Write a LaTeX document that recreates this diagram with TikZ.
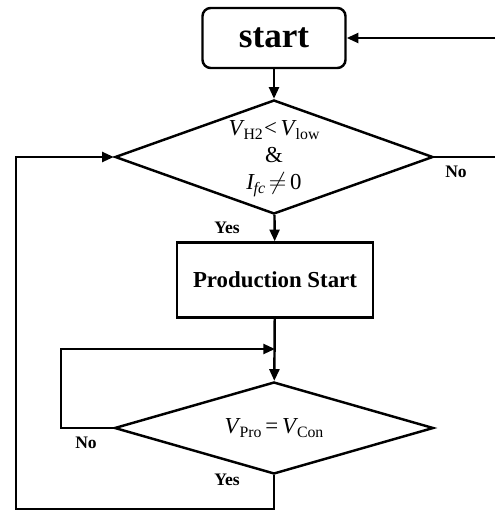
\documentclass[tikz,border=0pt]{standalone}
\usepackage{fontspec}
\setmainfont{Liberation Serif}
\usetikzlibrary{shapes,shapes.geometric,arrows.meta,calc}

% italic variable with upright subscript
\newcommand{\varsub}[2]{\textit{#1}\kern-1pt\raisebox{-0.4ex}{\fontsize{13.5}{13.5}\selectfont #2}}

\begin{document}
\begin{tikzpicture}
        [x=0.03cm,y=-0.03cm,line width=2.1pt,
        >={Triangle[length=10pt,width=8.5pt]},
        every node/.style={draw,line width=2.1pt,inner sep=0pt},
        startbox/.style={rectangle,rounded corners=7pt,minimum width=4.29cm,
          minimum height=1.8cm,font=\fontsize{30}{30}\selectfont\bfseries},
        procbox/.style={rectangle,minimum width=5.88cm,minimum height=2.25cm,
          font=\fontsize{19.5}{19.5}\selectfont\bfseries},
        decision/.style={diamond,aspect=2.8,minimum width=9.54cm,minimum height=3.42cm,
          font=\fontsize{19.5}{23}\selectfont,align=center},
        answer/.style={draw=none,font=\fontsize{15}{15}\selectfont\bfseries}]
        \useasboundingbox (0,0) rectangle (495,511);
        \node[startbox] (start) at (274,38) {start};
        %%
        \node[decision] (vcheck) at (274,157)
          {\raisebox{-5pt}{\begin{tabular}{@{}c@{}}
           \varsub{V}{H2}\kern1pt<\,\varsub{V}{low}\\ \&\\
           \textit{I}\kern-1pt\raisebox{-0.4ex}{\fontsize{13.5}{13.5}\selectfont\textit{fc}}\,\(\neq\)\,0
           \end{tabular}}};
        %%
        \node[procbox] (prod) at (275,280) {Production Start};
        %%
        \node[decision,minimum width=9.57cm,minimum height=2.76cm,aspect=3.47] (pcheck) at (274,428)
          {\varsub{V}{Pro}\,=\,\varsub{V}{Con}};
        %%
        \coordinate (join) at (275,349);
        \coordinate (noLeft) at (61,349);
        \coordinate (yesDown) at (274,509);
        \coordinate (yesLeft) at (16,157);
        \coordinate (noRight) at (495,157);
        \coordinate (backIn) at (495,38);
        %%
        \path
        \foreach \startNode/\endNode in {start/vcheck, vcheck/prod}
        {
          (\startNode) edge[->] (\endNode)
        };
        \draw[->] (prod) -- (pcheck);
        \draw[->] (pcheck.west) -| (noLeft) -- (join);
        \draw[->] (pcheck.south) -- (yesDown) -| (yesLeft) -- (vcheck.west);
        \draw (vcheck.east) -- (noRight);
        \draw[->] (backIn) -- (start.east);
        %%
        \node[answer] (no1) at (456,172) {No};
        \node[answer] (yes1) at (227,228) {Yes};
        \node[answer] (no2) at (86,443) {No};
        \node[answer] (yes2) at (227,480) {Yes};
        \end{tikzpicture}
\end{document}
